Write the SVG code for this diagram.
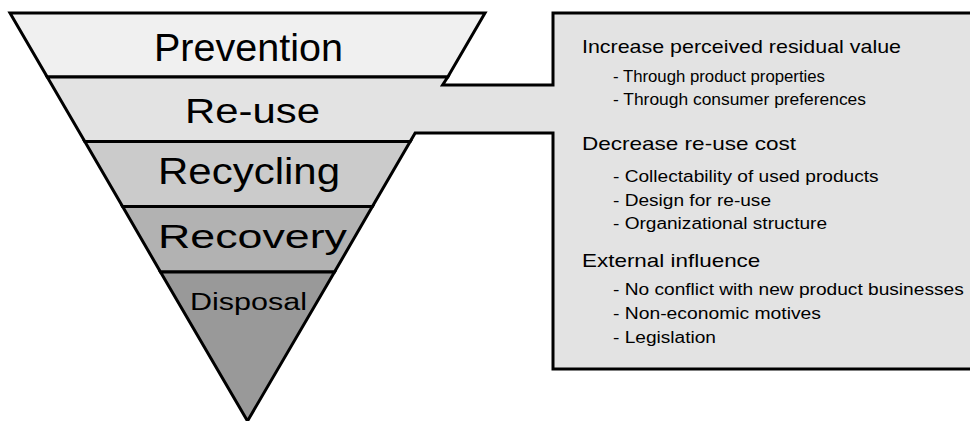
<svg xmlns="http://www.w3.org/2000/svg" width="970" height="421" viewBox="0 0 970 421">
  <style>
    .band { stroke: #000; stroke-width: 3; stroke-linejoin: miter; }
    .label { font-family: "Liberation Sans", Arial, sans-serif; fill: #000; text-anchor: middle; }
    .head { font-family: "Liberation Sans", Arial, sans-serif; fill: #000; font-size: 19px; }
    .item { font-family: "Liberation Sans", Arial, sans-serif; fill: #000; font-size: 16px; }
  </style>
  <rect width="970" height="421" fill="#fff"/>

  <!-- Waste hierarchy funnel, top band down to the apex -->
  <g id="prevention">
    <polygon class="band" fill="#f0f0f0" points="10,13 485,13 447.75,77 47.25,77"/>
    <text class="label" x="248.5" y="61" font-size="38" textLength="189" lengthAdjust="spacingAndGlyphs">Prevention</text>
  </g>

  <!-- Re-use band, extended into the explanatory callout box -->
  <g id="reuse">
    <polygon class="band" fill="#e3e3e3" points="47.25,77 447.75,77 442.6,85 553,85 553,13 985,13 985,369 553,369 553,133 415.15,133 410.2,141.5 84.8,141.5"/>
    <text class="label" x="252.5" y="123" font-size="35" textLength="135" lengthAdjust="spacingAndGlyphs">Re-use</text>
  </g>

  <g id="recycling">
    <polygon class="band" fill="#cbcbcb" points="84.8,141.5 410.2,141.5 372.4,206.5 122.6,206.5"/>
    <text class="label" x="249" y="184" font-size="36" textLength="182" lengthAdjust="spacingAndGlyphs">Recycling</text>
  </g>

  <g id="recovery">
    <polygon class="band" fill="#b2b2b2" points="122.6,206.5 372.4,206.5 334.5,272 160.5,272"/>
    <text class="label" x="252.5" y="248" font-size="34" textLength="189" lengthAdjust="spacingAndGlyphs">Recovery</text>
  </g>

  <g id="disposal">
    <polygon class="band" fill="#999999" points="160.5,272 334.5,272 247.5,421"/>
    <text class="label" x="248.5" y="310" font-size="23" textLength="117" lengthAdjust="spacingAndGlyphs">Disposal</text>
  </g>

  <!-- Callout text: drivers of re-use -->
  <g id="callout-text">
    <text class="head" x="582" y="53" textLength="319" lengthAdjust="spacingAndGlyphs">Increase perceived residual value</text>
    <text class="item" x="613" y="81.5" textLength="212" lengthAdjust="spacingAndGlyphs">- Through product properties</text>
    <text class="item" x="613" y="104.8" textLength="253" lengthAdjust="spacingAndGlyphs">- Through consumer preferences</text>

    <text class="head" x="582" y="150" textLength="214" lengthAdjust="spacingAndGlyphs">Decrease re-use cost</text>
    <text class="item" x="613" y="182.3" textLength="265.6" lengthAdjust="spacingAndGlyphs">- Collectability of used products</text>
    <text class="item" x="613" y="205.7" textLength="158" lengthAdjust="spacingAndGlyphs">- Design for re-use</text>
    <text class="item" x="613" y="229" textLength="214" lengthAdjust="spacingAndGlyphs">- Organizational structure</text>

    <text class="head" x="582" y="266.7" textLength="178.3" lengthAdjust="spacingAndGlyphs">External influence</text>
    <text class="item" x="613" y="295" textLength="350.7" lengthAdjust="spacingAndGlyphs">- No conflict with new product businesses</text>
    <text class="item" x="613" y="319" textLength="208" lengthAdjust="spacingAndGlyphs">- Non-economic motives</text>
    <text class="item" x="613" y="343" textLength="103" lengthAdjust="spacingAndGlyphs">- Legislation</text>
  </g>

  <g id="connectors"/>
</svg>
